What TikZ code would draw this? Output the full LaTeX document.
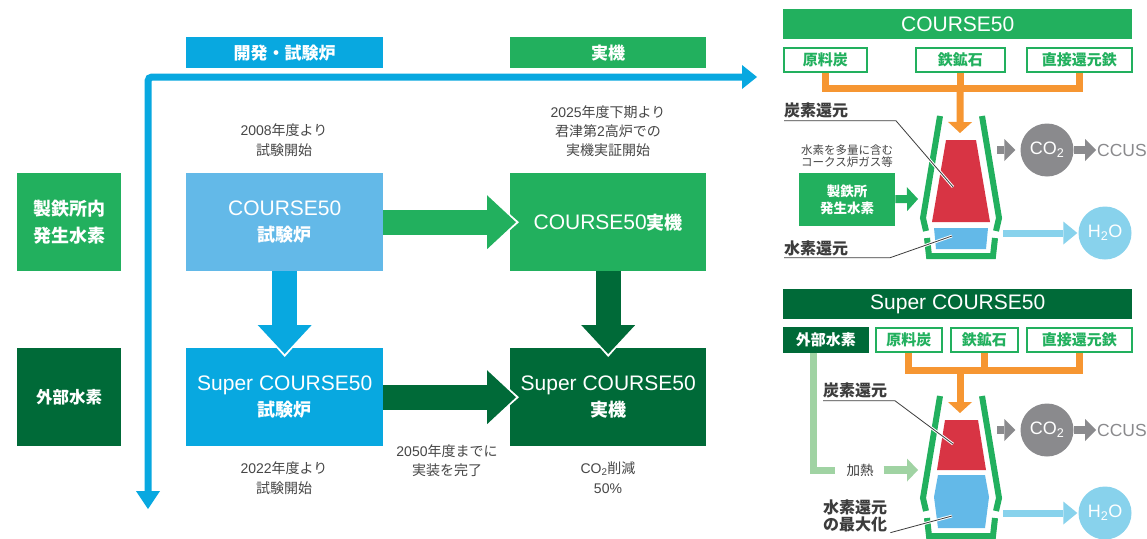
\documentclass[tikz,border=0pt]{standalone}
\usepackage{fontspec}
\setmainfont{Liberation Sans}
\newfontfamily\jpfont{Noto Sans CJK JP}
\usetikzlibrary{arrows.meta}

\definecolor{kgreen}{RGB}{34,176,94}
\definecolor{dgreen}{RGB}{0,106,56}
\definecolor{kblue}{RGB}{8,168,224}
\definecolor{lblue}{RGB}{99,185,232}
\definecolor{orng}{RGB}{246,150,50}
\definecolor{fred}{RGB}{216,52,68}
\definecolor{gry}{RGB}{138,138,141}
\definecolor{aqua}{RGB}{136,210,236}
\definecolor{lgreen}{RGB}{160,211,163}
\definecolor{txtgray}{RGB}{70,70,70}
\definecolor{dgray}{RGB}{60,60,60}

\newcommand{\jbox}[1]{{\jpfont\bfseries\fontsize{18}{18}\selectfont #1}}

\tikzset{
	stage/.style={anchor=north west, minimum width=197pt, minimum height=98pt, inner sep=0pt, text=white, align=center, font=\fontsize{21}{26}\selectfont},
	gas/.style={anchor=north west, minimum width=104pt, minimum height=98pt, inner sep=0pt, text=white, align=center, font=\jpfont\bfseries\fontsize{18}{27}\selectfont},
	tab/.style={anchor=north west, minimum width=197pt, minimum height=31pt, inner sep=0pt, text=white, font=\jpfont\bfseries\fontsize{17}{17}\selectfont},
	note/.style={text=txtgray, align=center, inner sep=0pt, font=\fontsize{14}{20}\selectfont},
	fat/.style={line width=25pt, shorten >=-6pt, -{Triangle[length=29pt,width=54pt,line width=0pt]}},
	halo/.style={white, line width=25pt, shorten >=-9pt, -{Triangle[length=35pt,width=62pt,line width=0pt]}},
	bar/.style={anchor=north west, minimum width=349pt, minimum height=30pt, inner sep=0pt, text=white, font=\fontsize{21}{21}\selectfont},
	src/.style={anchor=north west, draw=kgreen, line width=1.5pt, fill=white, minimum height=24pt, inner sep=0pt, text=kgreen, font=\jpfont\bfseries\fontsize{15}{15}\selectfont},
	feed/.style={orng, line width=7pt},
	drop/.style={-{Triangle[length=11pt,width=24pt,line width=0pt]}},
	wall/.style={kgreen, line width=6pt},
	ball/.style={circle, minimum size=53pt, inner sep=0pt, text=white, font=\fontsize{18}{18}\selectfont},
	gout/.style={gry, line width=8pt, -{Triangle[length=11pt,width=22pt,line width=0pt]}},
	wout/.style={aqua, line width=7pt, shorten >=1pt, -{Triangle[length=14pt,width=23pt,line width=0pt]}},
	zone/.style={text=dgray, inner sep=0pt, anchor=base west, align=left, font=\jpfont\bfseries\fontsize{16}{17}\selectfont},
	lead/.style={dgray, line width=0.8pt, preaction={draw=white, line width=2.8pt}}
}

\begin{document}
\begin{tikzpicture}[x=1pt,y=-1pt]
	\fill[white] (0,0) rectangle (1147,538);
	\useasboundingbox (0,0) rectangle (1147,538);

	\node[tab, fill=kblue] (hdev) at (186,37) {開発・試験炉};
	\node[tab, fill=kgreen, minimum width=196pt] (hreal) at (510,37) {実機};

	\coordinate (ax0) at (148,509);
	\coordinate (ax1) at (148,77);
	\coordinate (ax2) at (757,77);
	\draw[kblue, line width=7pt, rounded corners=4pt, {Triangle[length=18pt,width=24pt,line width=0pt]}-{Triangle[length=15pt,width=24pt,line width=0pt]}] (ax0) -- (ax1) -- (ax2);

	\node[gas, fill=kgreen] (inh2) at (17,173) {製鉄所内\\発生水素};
	\node[gas, fill=dgreen, font=\jpfont\bfseries\fontsize{16.5}{20}\selectfont] (exh2) at (17,348) {外部水素};

	\node[stage, fill=lblue] (c50t) at (186,173) {COURSE50\\\jbox{試験炉}};
	\node[stage, fill=kgreen, minimum width=196pt] (c50r) at (510,173) {COURSE50\jbox{実機}};
	\node[stage, fill=kblue] (sc50t) at (186,348) {Super COURSE50\\\jbox{試験炉}};
	\node[stage, fill=dgreen, minimum width=196pt] (sc50r) at (510,348) {Super COURSE50\\\jbox{実機}};

	\draw[halo] (c50t) -- (c50r);
	\draw[fat, kgreen] (c50t) -- (c50r);
	\draw[halo] (sc50t) -- (sc50r);
	\draw[fat, dgreen] (sc50t) -- (sc50r);
	\draw[halo] (c50t) -- (sc50t);
	\draw[fat, kblue] (c50t) -- (sc50t);
	\draw[halo] (c50r) -- (sc50r);
	\draw[fat, dgreen] (c50r) -- (sc50r);

	\node[note] (n2008) at (284,140) {2008{\jpfont 年度より}\\{\jpfont 試験開始}};
	\node[note, font=\fontsize{14}{19}\selectfont] (n2025) at (608,131) {2025{\jpfont 年度下期より}\\{\jpfont 君津第}2{\jpfont 高炉での}\\{\jpfont 実機実証開始}};
	\node[note] (n2022) at (284,478) {2022{\jpfont 年度より}\\{\jpfont 試験開始}};
	\node[note, font=\fontsize{14}{19}\selectfont] (n2050) at (447,461) {2050{\jpfont 年度までに}\\{\jpfont 実装を完了}};
	\node[note] (ncut) at (608,478) {CO\textsubscript{2}{\jpfont 削減}\\50\%};

	% COURSE50 furnace
	\node[bar, fill=kgreen] (hc50) at (783,9) {COURSE50};
	\node[src, minimum width=83pt] (coal1) at (783,47) {原料炭};
	\node[src, minimum width=89pt] (ore1) at (915,47) {鉄鉱石};
	\node[src, minimum width=105pt] (dri1) at (1026,47) {直接還元鉄};
	\coordinate (j1) at (960,88);
	\coordinate (top1) at (960,133);
	\draw[feed] (coal1.south) |- (j1) -| (dri1.south);
	\draw[feed, drop] (ore1.south |- j1) -- (top1);
	\draw[feed] (ore1.south) -- (ore1.south |- j1);

	\draw[wall] (940,116) -- (923,218) -- (926,231);
	\draw[wall] (982,116) -- (999,218) -- (996,231);
	\draw[wall] (927,238) -- (929,256) -- (993,256) -- (995,238);
	\fill[fred] (946,140) -- (976,140) -- (990,222) -- (932,222) -- cycle;
	\fill[lblue] (934,228) -- (988,228) -- (986,249) -- (936,249) -- cycle;

	\node[anchor=north west, fill=kgreen, minimum width=96pt, minimum height=53pt, inner sep=0pt, text=white, align=center, font=\jpfont\bfseries\fontsize{13.5}{17}\selectfont] (gen1) at (799,173) {製鉄所\\発生水素};
	\coordinate (in1) at (918,199);
	\draw[kgreen, line width=8pt, drop] (gen1) -- (in1);
	\node[text=txtgray, align=center, inner sep=0pt, font=\jpfont\fontsize{11.5}{12}\selectfont] (cog) at (847,156) {水素を多量に含む\\コークス炉ガス等};

	\coordinate (g1) at (997,150);
	\node[ball, fill=gry] (co2a) at (1047,150) {CO\textsubscript{2}};
	\node[text=gry, anchor=west, inner sep=0pt, font=\fontsize{17.5}{17.5}\selectfont] (ccus1) at (1097,150) {CCUS};
	\draw[gout, shorten >=5pt] (g1) -- (co2a);
	\draw[gout, shorten >=1pt] (co2a) -- (ccus1);
	\coordinate (w1) at (1003,233);
	\node[ball, fill=aqua] (h2oa) at (1105,233) {H\textsubscript{2}O};
	\draw[wout] (w1) -- (h2oa);

	\node[zone] (cz1) at (784,116) {炭素還元};
	\coordinate (cr1) at (953,187);
	\draw[lead] ([yshift=-3pt]cz1.south west) -- ++(112,0) -- (cr1);
	\node[zone] (hz1) at (784,254) {水素還元};
	\coordinate (hr1) at (952,236);
	\draw[lead] ([yshift=-2pt]hz1.south west) -- ++(106,0) -- (hr1);

	% Super COURSE50 furnace
	\node[bar, fill=dgreen] (hsc50) at (783,289) {Super COURSE50};
	\node[src, fill=dgreen, draw=dgreen, text=white, minimum width=84pt] (ext2) at (783,327) {外部水素};
	\node[src, minimum width=66pt] (coal2) at (875,327) {原料炭};
	\node[src, minimum width=67pt] (ore2) at (950,327) {鉄鉱石};
	\node[src, minimum width=105pt] (dri2) at (1026,327) {直接還元鉄};
	\coordinate (j2) at (960,370);
	\coordinate (top2) at (960,413);
	\draw[feed] (coal2.south) |- (j2) -| (dri2.south);
	\draw[feed] (ore2.south) -- (ore2.south |- j2);
	\draw[feed, drop] (j2) -- (top2);

	\draw[wall] (940,396) -- (923,498) -- (926,511);
	\draw[wall] (982,396) -- (999,498) -- (996,511);
	\draw[wall] (927,518) -- (929,536) -- (993,536) -- (995,518);
	\fill[fred] (945,420) -- (978,420) -- (986,470) -- (937,470) -- cycle;
	\fill[lblue] (938,475) -- (985,475) -- (989,497) -- (985,528) -- (938,528) -- (934,497) -- cycle;

	\coordinate (bend2) at (813,470);
	\node[text=dgray, inner sep=0pt, font=\jpfont\fontsize{13.5}{13.5}\selectfont] (heat2) at (860,470) {加熱};
	\draw[lgreen, line width=7pt] (ext2.south -| bend2) |- ([xshift=-11pt]heat2.west);
	\coordinate (in2) at (918,470);
	\draw[lgreen, line width=8pt, -{Triangle[length=11pt,width=23pt,line width=0pt]}] ([xshift=10pt]heat2.east) -- (in2);

	\coordinate (g2) at (997,430);
	\node[ball, fill=gry] (co2b) at (1047,430) {CO\textsubscript{2}};
	\node[text=gry, anchor=west, inner sep=0pt, font=\fontsize{17.5}{17.5}\selectfont] (ccus2) at (1097,430) {CCUS};
	\draw[gout, shorten >=5pt] (g2) -- (co2b);
	\draw[gout, shorten >=1pt] (co2b) -- (ccus2);
	\coordinate (w2) at (1003,513);
	\node[ball, fill=aqua] (h2ob) at (1105,513) {H\textsubscript{2}O};
	\draw[wout] (w2) -- (h2ob);

	\node[zone] (cz2) at (823,396) {炭素還元};
	\coordinate (cr2) at (953,444);
	\draw[lead] ([yshift=-3pt]cz2.south west) -- ++(72,0) -- (cr2);
	\node[zone, anchor=north west] (hz2) at (823,500) {水素還元\\の最大化};
	\coordinate (hr2) at (952,516);
	\draw[lead] ([xshift=3pt]hz2.south east) -- (hr2);
\end{tikzpicture}
\end{document}
